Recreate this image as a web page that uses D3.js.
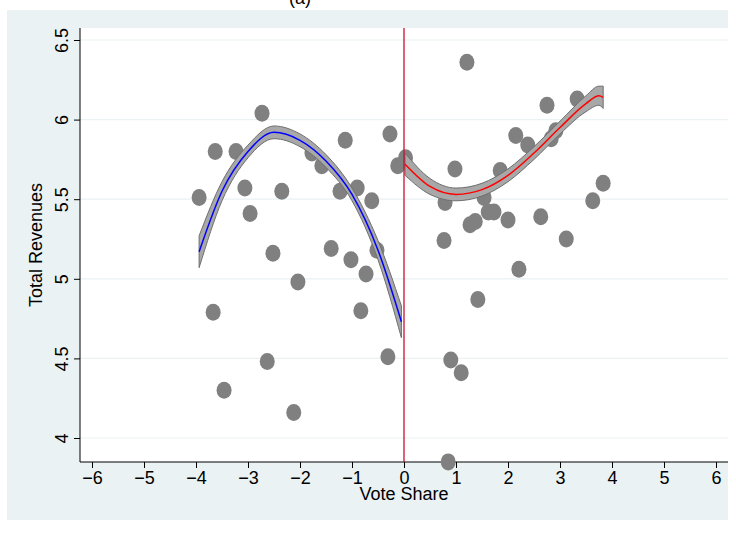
<!DOCTYPE html>
<html><head><meta charset="utf-8">
<script src="https://cdn.jsdelivr.net/npm/d3@7"></script>
<style>body{margin:0;background:#fff}text{font-family:"Liberation Sans Narrow","Liberation Sans",Arial,sans-serif}</style>
</head><body><svg id="c" width="736" height="543"></svg>
<script>
// scatter points
var leftX = [-3.94,-3.67,-3.63,-3.46,-3.23,-3.06,-2.96,-2.73,-2.63,-2.52,-2.35,-2.12,-2.04,-1.77,-1.58,-1.40,-1.23,-1.13,-1.02,-0.90,-0.83,-0.73,-0.62,-0.52,-0.31,-0.27,-0.12,0.03];
var leftY = [5.51,4.79,5.80,4.30,5.80,5.57,5.41,6.04,4.48,5.16,5.55,4.16,4.98,5.79,5.71,5.19,5.55,5.87,5.12,5.57,4.80,5.03,5.49,5.18,4.51,5.91,5.71,5.76];
var rightX = [0.79,0.77,0.90,0.85,0.98,1.10,1.21,1.27,1.37,1.42,1.54,1.62,1.73,1.85,2.00,2.15,2.21,2.38,2.63,2.75,2.83,2.92,3.12,3.33,3.63,3.83];
var rightY = [5.48,5.24,4.49,3.85,5.69,4.41,6.36,5.34,5.36,4.87,5.51,5.42,5.42,5.68,5.37,5.90,5.06,5.84,5.39,6.09,5.88,5.93,5.25,6.13,5.49,5.60];
// fitted curves and confidence half-widths
var fitLX = [-3.94,-3.5,-3,-2.5,-2,-1.5,-1,-0.5,-0.05];
var fitLY = [5.17,5.55,5.80,5.92,5.87,5.74,5.53,5.18,4.73];
var fitLW = [0.10,0.06,0.04,0.04,0.04,0.04,0.04,0.06,0.10];
var fitRX = [0.02,0.5,1,1.5,2,2.5,3,3.5,3.75,3.83];
var fitRY = [5.72,5.58,5.53,5.56,5.65,5.79,5.95,6.10,6.15,6.14];
var fitRW = [0.07,0.05,0.04,0.04,0.04,0.04,0.04,0.05,0.06,0.07];
var xTicks = [-6,-5,-4,-3,-2,-1,0,1,2,3,4,5,6];
var yTicks = [4,4.5,5,5.5,6,6.5];

var svg = d3.select("#c");
svg.append("text").attr("x",300).attr("y",4).attr("text-anchor","middle").attr("font-size",18).text("(a)");
svg.append("rect").attr("x",7).attr("y",10).attr("width",721).attr("height",510).attr("fill","#eaf2f3");
svg.append("rect").attr("x",80).attr("y",28).attr("width",648).attr("height",434).attr("fill","#fff");

var x = d3.scaleLinear().domain([-6,6]).range([92,716]);
var y = d3.scaleLinear().domain([4,6.5]).range([438,40]);

svg.selectAll(".grid").data(yTicks).enter().append("line")
  .attr("x1",80).attr("x2",728).attr("y1",d=>y(d)).attr("y2",d=>y(d))
  .attr("stroke","#eaf2f3").attr("stroke-width",1.2);

var xa = svg.append("g").attr("transform","translate(0,462)")
  .call(d3.axisBottom(x).tickValues(xTicks).tickSize(6).tickPadding(3).tickFormat(d=>String(d).replace("-","\u2212")))
  .call(g=>g.select(".domain").attr("d","M80,0H728"));
xa.attr("font-size",18).attr("font-family",null);
xa.selectAll("text").attr("fill","#000");

var ya = svg.append("g").attr("transform","translate(80,0)")
  .call(d3.axisLeft(y).tickValues(yTicks).tickSize(6).tickFormat(d=>d))
  .call(g=>g.select(".domain").attr("d","M0,28V462"));
ya.attr("font-size",18).attr("font-family",null);
ya.selectAll(".tick text").attr("fill","#000")
  .attr("x",0).attr("dy",null).attr("text-anchor","middle")
  .attr("transform","translate(-12,0) rotate(-90)");

svg.append("text").attr("x",404).attr("y",500).attr("text-anchor","middle").attr("font-size",18).text("Vote Share");
svg.append("text").attr("transform","translate(42,245) rotate(-90)").attr("text-anchor","middle").attr("font-size",18).text("Total Revenues");

function drawFit(xs, ys, ws, col){
  var pts = xs.map((v,i)=>({x:v,y:ys[i],w:ws[i]}));
  var area = d3.area().curve(d3.curveMonotoneX).x(d=>x(d.x)).y0(d=>y(d.y-d.w)).y1(d=>y(d.y+d.w));
  svg.append("path").datum(pts).attr("d",area).attr("fill","#a8a8a8").attr("stroke","#6e6e6e").attr("stroke-width",1);
  svg.append("path").datum(pts).attr("d",d3.line().curve(d3.curveMonotoneX).x(d=>x(d.x)).y(d=>y(d.y)))
    .attr("fill","none").attr("stroke",col).attr("stroke-width",1.5);
}

function drawPts(xs, ys){
  svg.append("g").selectAll("ellipse").data(xs.map((v,i)=>[v,ys[i]])).enter().append("ellipse")
    .attr("cx",d=>x(d[0])).attr("cy",d=>y(d[1])).attr("rx",7.5).attr("ry",8.5).attr("fill","#808080");
}
drawPts(leftX,leftY);
drawPts(rightX,rightY);
drawFit(fitLX,fitLY,fitLW,"#0000ff");
drawFit(fitRX,fitRY,fitRW,"#ff0000");
svg.append("line").attr("x1",x(0)).attr("x2",x(0)).attr("y1",28).attr("y2",462).attr("stroke","#c8102e").attr("stroke-width",1.3);
</script></body></html>
